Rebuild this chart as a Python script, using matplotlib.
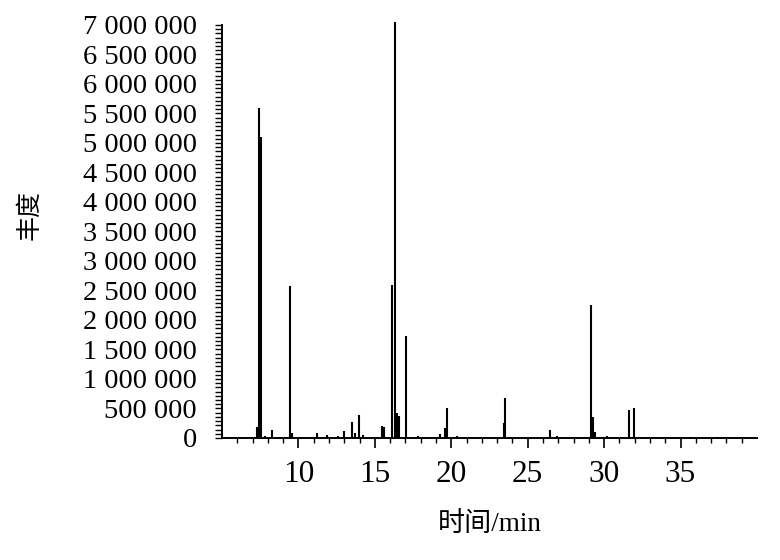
"""
Total ion chromatogram: 丰度 vs 时间/min.
"""

import matplotlib
matplotlib.use('Agg')
import matplotlib.pyplot as plt
from matplotlib.ticker import FixedLocator, MultipleLocator, AutoMinorLocator, FuncFormatter

# ── Data (peaks) ────────────────────────────────────────────────────────────
peak_time = [5.4, 7.3, 7.45, 7.55, 7.8, 8.3, 9.45, 9.6, 11.24, 11.9, 12.6,
             12.95, 13.5, 13.7, 13.97, 14.2, 15.45, 15.6, 16.15, 16.3, 16.45,
             16.6, 17.05, 17.8, 19.25, 19.6, 19.7, 20.4, 23.45, 23.5, 26.48,
             26.9, 29.15, 29.25, 29.4, 30.2, 31.63, 31.95]
peak_height = [20000, 185000, 5600000, 5100000, 30000, 135000, 2580000, 80000,
               85000, 50000, 40000, 120000, 275000, 85000, 390000, 50000,
               200000, 190000, 2600000, 7050000, 420000, 380000, 1720000,
               35000, 60000, 170000, 510000, 30000, 250000, 680000, 135000,
               30000, 2250000, 350000, 100000, 30000, 475000, 515000]

x_major = [10, 15, 20, 25, 30, 35]
x_minor = list(range(6, 40))
y_max = 7000000
x_lim = (5, 40)

SERIF = ['Liberation Serif', 'DejaVu Serif']
CJK = ['Noto Sans CJK SC', 'DejaVu Sans']

def fmt_abund(v, pos):
    # thousands separated by spaces, like the reference
    return f"{int(round(v)):,}".replace(",", " ")

# ── Figure ──────────────────────────────────────────────────────────────────
fig = plt.figure(figsize=(7.8, 5.6), dpi=100)
ax = fig.add_axes([0.2846, 0.2179, 0.6859, 0.7375])

ax.vlines(peak_time, 0, peak_height, color='black', linewidth=1.5, clip_on=False)

ax.set_xlim(*x_lim)
ax.set_ylim(0, y_max)

for side in ('top', 'right'):
    ax.spines[side].set_visible(False)
for side in ('left', 'bottom'):
    ax.spines[side].set_linewidth(1.4)

ax.xaxis.set_major_locator(FixedLocator(x_major))
ax.xaxis.set_minor_locator(FixedLocator([t for t in x_minor if t not in x_major]))
ax.yaxis.set_major_locator(MultipleLocator(500000))
ax.yaxis.set_minor_locator(AutoMinorLocator(7))
ax.yaxis.set_major_formatter(FuncFormatter(fmt_abund))

ax.tick_params(axis='x', which='major', direction='out', length=7, width=1.2, pad=9)
ax.tick_params(axis='x', which='minor', direction='out', length=3.5, width=1.0)
ax.tick_params(axis='y', which='both', direction='out', length=5, width=1.0, pad=13)

for lab in ax.get_xticklabels():
    lab.set_family(SERIF)
    lab.set_fontsize(22.5)
for lab in ax.get_yticklabels():
    lab.set_family(SERIF)
    lab.set_fontsize(20.5)

ax.set_xlabel("时间/min", family=['Liberation Serif', 'Noto Sans CJK SC'], fontsize=19.5)
ax.xaxis.set_label_coords(0.5, -0.18)
ax.set_ylabel("丰度", family=CJK, fontsize=18)
ax.yaxis.set_label_coords(-0.335, 0.54)

fig.savefig("out.png", dpi=100)
